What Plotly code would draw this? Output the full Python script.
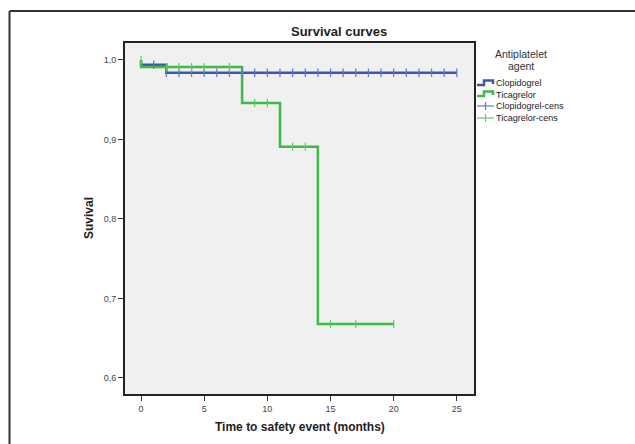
import plotly.graph_objects as go

# Kaplan-Meier step data (time in months, cumulative survival)
clop_times = [0, 0, 2, 25]
clop_surv = [1.0, 0.994, 0.984, 0.984]
tica_times = [0, 0, 8, 11, 14, 20]
tica_surv = [1.0, 0.991, 0.946, 0.891, 0.668, 0.668]

# Censored observations
clop_cens_t = [1] + list(range(2, 26))
clop_cens_s = [0.994] + [0.984] * 24
tica_cens_t = [0, 2, 3, 4, 5, 7, 9, 10, 12, 13, 15, 17, 20]
tica_cens_s = [1.0, 0.991, 0.991, 0.991, 0.991, 0.991,
               0.946, 0.946, 0.891, 0.891, 0.668, 0.668, 0.668]

x_ticks = [0, 5, 10, 15, 20, 25]
y_ticks = [0.6, 0.7, 0.8, 0.9, 1.0]

BLUE = "#3b56ae"
GREEN = "#3dbb45"
BLUE_C = "#5d77c6"
GREEN_C = "#5fcc69"
FONT = "Liberation Sans, Arial, sans-serif"

W, H = 635, 444
L, R, T, B = 124, 475, 42, 395


def xp(px):
    return (px - L) / (R - L)


def yp(py):
    return (B - py) / (B - T)


fig = go.Figure()
fig.add_trace(go.Scatter(x=clop_times, y=clop_surv, mode="lines", line_shape="hv",
                         line=dict(color=BLUE, width=2.5), showlegend=False))
fig.add_trace(go.Scatter(x=tica_times, y=tica_surv, mode="lines", line_shape="hv",
                         line=dict(color=GREEN, width=2.5), showlegend=False))
fig.add_trace(go.Scatter(x=clop_cens_t, y=clop_cens_s, mode="markers",
                         marker=dict(symbol="line-ns-open", size=6, color=BLUE_C,
                                     line=dict(color=BLUE_C, width=1.2)),
                         showlegend=False))
fig.add_trace(go.Scatter(x=tica_cens_t, y=tica_cens_s, mode="markers",
                         marker=dict(symbol="line-ns-open", size=6, color=GREEN_C,
                                     line=dict(color=GREEN_C, width=1.2)),
                         showlegend=False))

shapes = [
    # outer frame
    dict(type="line", xref="paper", yref="paper", x0=xp(9.5), x1=xp(9.5),
         y0=yp(11), y1=yp(450), line=dict(color="#333", width=2)),
    dict(type="line", xref="paper", yref="paper", x0=xp(9.5), x1=xp(640),
         y0=yp(11), y1=yp(11), line=dict(color="#333", width=2)),
    # plot border
    dict(type="rect", xref="paper", yref="paper", x0=0, x1=1, y0=0, y1=1,
         line=dict(color="#222", width=2), layer="above"),
]

# legend symbols
step = (f"M {xp(477)},{yp(85)} L {xp(484)},{yp(85)} L {xp(484)},{yp(80.5)} "
        f"L {xp(493)},{yp(80.5)} L {xp(493)},{yp(84)}")
shapes.append(dict(type="path", xref="paper", yref="paper", path=step,
                   line=dict(color=BLUE, width=2.5)))
step2 = (f"M {xp(477)},{yp(96)} L {xp(484)},{yp(96)} L {xp(484)},{yp(91.5)} "
         f"L {xp(493)},{yp(91.5)} L {xp(493)},{yp(95)}")
shapes.append(dict(type="path", xref="paper", yref="paper", path=step2,
                   line=dict(color=GREEN, width=2.5)))
for yy, col in [(106, BLUE_C), (118, GREEN_C)]:
    shapes.append(dict(type="line", xref="paper", yref="paper", x0=xp(477), x1=xp(494),
                       y0=yp(yy), y1=yp(yy), line=dict(color=col, width=1.2)))
    shapes.append(dict(type="line", xref="paper", yref="paper", x0=xp(485.5), x1=xp(485.5),
                       y0=yp(yy - 4), y1=yp(yy + 4), line=dict(color=col, width=1.2)))


def note(text, px, py, size, color="#222", xanchor="center", angle=0):
    return dict(text=text, x=xp(px), y=yp(py), xref="paper", yref="paper",
                xanchor=xanchor, yanchor="middle", showarrow=False, textangle=angle,
                font=dict(size=size, color=color, family=FONT))


annotations = [
    note("<b>Survival curves</b>", 339, 32, 13),
    note("<b>Time to safety event (months)</b>", 300, 427, 12),
    note("<b>Suvival</b>", 89, 218, 12, angle=-90),
    note("Antiplatelet", 521, 54, 10.5, color="#333"),
    note("agent", 521, 66, 10.5, color="#333"),
]
for yy, name in [(83, "Clopidogrel"), (94.5, "Ticagrelor"),
                 (106, "Clopidogrel-cens"), (118, "Ticagrelor-cens")]:
    annotations.append(note(name, 494, yy, 9, xanchor="left"))

fig.update_layout(
    width=W, height=H,
    margin=dict(l=L, r=W - R, t=T, b=H - B),
    paper_bgcolor="white", plot_bgcolor="#f0f0f0",
    separators=",.",
    showlegend=False,
    shapes=shapes, annotations=annotations,
    font=dict(family=FONT),
)
fig.update_xaxes(range=[-1.35, 26.44], tickvals=x_ticks, showgrid=False, zeroline=False,
                 ticks="outside", ticklen=5, tickcolor="#333",
                 tickfont=dict(size=9, color="#444", family=FONT))
fig.update_yaxes(range=[0.5786, 1.0226], tickvals=y_ticks, tickformat=".1f",
                 showgrid=False, zeroline=False,
                 ticks="outside", ticklen=5, tickcolor="#333",
                 tickfont=dict(size=9, color="#444", family=FONT))

fig.write_html("out.html")
